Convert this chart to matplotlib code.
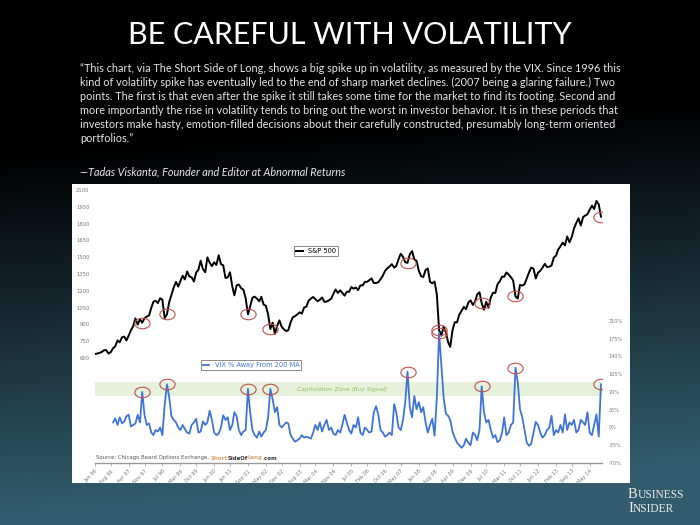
import matplotlib
matplotlib.use('Agg')
import matplotlib.pyplot as plt
from matplotlib import font_manager
from matplotlib.path import Path
from matplotlib.markers import MarkerStyle
from matplotlib.transforms import Affine2D
import numpy as np
import pandas as pd

# S&P 500, monthly, Jan 1996 - Oct 2014
sp500 = [
    636, 640, 646, 654, 669, 671, 640, 652, 687, 705, 757, 741,        # 1996
    786, 791, 757, 801, 848, 885, 954, 899, 947, 915, 955, 970,        # 1997
    980, 1049, 1102, 1112, 1091, 1134, 1121, 957, 990, 1099, 1164, 1229,  # 1998
    1280, 1238, 1286, 1335, 1302, 1373, 1329, 1320, 1283, 1363, 1389, 1469,  # 1999
    1394, 1366, 1499, 1452, 1421, 1455, 1431, 1518, 1437, 1429, 1315, 1320,  # 2000
    1366, 1240, 1160, 1249, 1256, 1224, 1211, 1134, 990, 1060, 1139, 1148,   # 2001
    1130, 1107, 1147, 1077, 1067, 990, 860, 916, 815, 886, 936, 880,         # 2002
    856, 841, 848, 917, 964, 975, 990, 1008, 996, 1051, 1058, 1112,          # 2003
    1131, 1145, 1126, 1107, 1121, 1141, 1102, 1104, 1115, 1130, 1174, 1212,  # 2004
    1181, 1204, 1181, 1157, 1192, 1191, 1234, 1220, 1229, 1207, 1249, 1248,  # 2005
    1280, 1281, 1295, 1311, 1270, 1270, 1277, 1304, 1336, 1378, 1401, 1418,  # 2006
    1438, 1407, 1421, 1482, 1531, 1503, 1455, 1450, 1527, 1555, 1481, 1468,  # 2007
    1379, 1331, 1323, 1386, 1400, 1280, 1267, 1283, 1166, 850, 800, 880,     # 2008
    830, 740, 700, 850, 919, 919, 987, 1021, 1057, 1036, 1096, 1115,         # 2009
    1074, 1104, 1169, 1187, 1089, 1031, 1102, 1049, 1141, 1183, 1181, 1258,  # 2010
    1286, 1327, 1326, 1364, 1345, 1321, 1292, 1150, 1131, 1253, 1247, 1258,  # 2011
    1312, 1366, 1408, 1398, 1310, 1362, 1379, 1407, 1441, 1412, 1416, 1426,  # 2012
    1498, 1515, 1569, 1598, 1631, 1606, 1686, 1633, 1682, 1757, 1806, 1848,  # 2013
    1783, 1859, 1872, 1884, 1924, 1960, 1931, 2003, 1972, 1862,              # 2014
]

# VIX % away from its 200-day MA, monthly, Sep 1996 - Oct 2014
vix_pct = [
    10, 18, 5, 20,                                            # 1996
    8, 12, 22, 25, 2, 5, 8, 25, 10, 70, 25, 5,                # 1997
    8, -10, -15, -5, -8, 0, -15, 45, 85, 60, 22, 15,          # 1998
    10, 0, -5, 5, -3, -10, -12, 5, 10, 17, -10, -8,           # 1999
    12, 5, 10, 33, 15, -10, -15, -12, 0, 24, 15, 20,          # 2000
    -5, 5, 30, 22, -5, -15, -8, -5, 76, 30, -5, -15,          # 2001
    -20, -8, -18, -10, -5, 20, 76, 56, 30, 40, 5, 0,          # 2002
    5, 10, 8, -15, -22, -28, -25, -22, -15, -20, -18, -20,    # 2003
    -22, -10, 5, -5, 10, -8, 5, 15, -5, 0, -12, -15,          # 2004
    -5, -10, 5, 25, 10, -5, -12, 5, 0, 20, -10, -15,          # 2005
    0, -5, -10, -8, 30, 42, 25, -5, -10, -18, -15, -10,       # 2006
    -15, 46, 30, 0, -5, 15, 50, 110, 40, 20, 62, 36,          # 2007
    50, 30, 40, 10, -10, 5, 17, -16, 60, 187, 121, 60,        # 2008
    27, 23, 15, -8, -20, -30, -35, -40, -35, -22, -30, -35,   # 2009
    -10, -15, -25, -5, 81, 30, 10, 15, -5, -20, -15, -29,     # 2010
    -25, -10, 20, -15, -10, 5, 10, 118, 89, 36, 20, -5,       # 2011
    -30, -36, -32, -10, 11, 5, -10, -20, -15, -5, 0, 23,      # 2012
    -15, -5, -10, 5, -10, 26, -5, 10, 5, 15, -10, -5,         # 2013
    15, 10, 5, 30, -10, -15, 5, 26, -18, 85,                  # 2014
]

spike_months = ['1997-10', '1998-09', '2001-09', '2002-07', '2007-08',
                '2008-10', '2010-05', '2011-08', '2014-10']

tick_labels = ['Jan 96', 'Aug 96', 'Apr 97', 'Nov 97', 'Jul 98', 'Mar 99', 'Oct 99',
               'Jun 00', 'Jan 01', 'Sep 01', 'May 02', 'Dec 02', 'Aug 03', 'Mar 04',
               'Nov 04', 'Jul 05', 'Feb 06', 'Oct 06', 'May 07', 'Jan 08', 'Aug 08',
               'Apr 09', 'Dec 09', 'Jul 10', 'Mar 11', 'Oct 11', 'Jun 12', 'Feb 13',
               'Sep 13', 'May 14']

sp_ticks = [600, 750, 900, 1050, 1200, 1350, 1500, 1650, 1800, 1950, 2100]
vix_ticks = [-70, -35, 0, 35, 70, 105, 140, 175, 210]

quote_lines = [
    '\u201cThis chart, via The Short Side of Long, shows a big spike up in volatility, as measured by the VIX. Since 1996 this',
    'kind of volatility spike has eventually led to the end of sharp market declines. (2007 being a glaring failure.) Two',
    'points. The first is that even after the spike it still takes some time for the market to find its footing. Second and',
    'more importantly the rise in volatility tends to bring out the worst in investor behavior. It is in these periods that',
    'investors make hasty, emotion-filled decisions about their carefully constructed, presumably long-term oriented',
    'portfolios.\u201d',
]
attribution = '\u2014Tadas Viskanta, Founder and Editor at Abnormal Returns'

sp_dates = pd.date_range('1996-01-01', periods=len(sp500), freq='MS')
vix_dates = pd.date_range('1996-09-01', periods=len(vix_pct), freq='MS')
sp_s = pd.Series(sp500, index=sp_dates)
vix_s = pd.Series(vix_pct, index=vix_dates)
spike_dates = pd.to_datetime(spike_months)
tick_dates = [pd.to_datetime(t, format='%b %y') for t in tick_labels]

# pick fonts that exist
names = {f.name for f in font_manager.fontManager.ttflist}
def pick(*cands):
    for c in cands:
        if c in names:
            return c
    return 'DejaVu Sans'
narrow = pick('Liberation Sans Narrow', 'Lato', 'Open Sans')
title_font = pick('Lato', 'Open Sans', 'Noto Sans')
serif = pick('Liberation Serif', 'DejaVu Serif')

W, H = 700, 525
fig = plt.figure(figsize=(7, 5.25), dpi=100)

def fx(px):
    return px / W
def fy(py):
    return 1 - py / H

# slide background: black fading to dark teal
bg = fig.add_axes([0, 0, 1, 1], zorder=-10)
yy = np.arange(H)[:, None]
xx = np.arange(W)[None, :]
t = np.clip((yy - 140) / 360.0 + 0.15 * (xx / W - 0.3), 0, 1)
teal = np.array([0x32, 0x5c, 0x6d]) / 255.0
img = t[..., None] * teal
bg.imshow(img, aspect='auto', extent=[0, 1, 0, 1])
bg.axis('off')

# title and quote
fig.text(0.5, fy(35), 'BE CAREFUL WITH VOLATILITY', ha='center', va='center',
         color='white', fontsize=22, family=title_font, fontweight='normal')
for i, line in enumerate(quote_lines):
    fig.text(fx(80), fy(69 + 13.9 * i), line, ha='left', va='center',
             color='#e6e6e6', fontsize=7.8, family=narrow)
fig.text(fx(80), fy(172), attribution, ha='left', va='center', color='#e6e6e6',
         fontsize=7.8, family=narrow, style='italic')

# white chart panel
panel = fig.add_axes([fx(72), fy(483), fx(630) - fx(72), fy(184) - fy(483)], zorder=-5)
panel.set_facecolor('white')
panel.set_xticks([])
panel.set_yticks([])
for s in panel.spines.values():
    s.set_visible(False)

ax = fig.add_axes([fx(95), fy(463), fx(602) - fx(95), fy(186) - fy(463)])
ax.patch.set_alpha(0)
ax2 = ax.twinx()

ell = MarkerStyle(Path.unit_circle().transformed(Affine2D().scale(1.45, 1.0)))

# S&P 500 on the left axis
sp_line, = ax.plot(sp_s.index, sp_s.values, color='black', lw=1.4, label='S&P 500')
ax.plot(spike_dates, sp_s.reindex(spike_dates).values, ls='none', marker=ell,
        ms=11, mfc='none', mec='#c0504d', mew=0.8)
ax.set_ylim(-337, 2136)
ax.set_yticks(sp_ticks)
ax.tick_params(axis='y', length=0, pad=4, labelsize=3.8, labelcolor='#777777')

# VIX % away from 200 MA on the right axis
ax2.axhspan(62, 89, color='#e5f1da', lw=0)
ax2.text(pd.Timestamp('2003-07-01'), 75, 'Capitulation Zone (Buy Signal)', color='#8cbf5f',
         fontsize=4.2, style='italic', va='center', ha='left')
vix_line, = ax2.plot(vix_s.index, vix_s.values, color='#3f74d6', lw=1.3,
                     label='VIX % Away From 200 MA')
ax2.plot(spike_dates, vix_s.reindex(spike_dates).values, ls='none', marker=ell,
         ms=11, mfc='none', mec='#c0504d', mew=0.8)
ax2.set_ylim(-70, 476)
ax2.set_yticks(vix_ticks)
ax2.set_yticklabels([f'{v}%' for v in vix_ticks])
ax2.tick_params(axis='y', length=0, pad=5, labelsize=3.6, labelcolor='#777777')

ax.set_xlim(sp_dates[0], pd.Timestamp('2014-10-15'))
ax.set_xticks(tick_dates)
ax.set_xticklabels(tick_labels, rotation=45, ha='right', rotation_mode='anchor')
ax.tick_params(axis='x', length=2, width=0.5, color='#999999', pad=2,
               labelsize=3.6, labelcolor='#777777')

for a in (ax, ax2):
    for side in ('top', 'left', 'right'):
        a.spines[side].set_visible(False)
ax.spines['bottom'].set_color('#999999')
ax.spines['bottom'].set_linewidth(1.0)
ax2.spines['bottom'].set_visible(False)

# legends
lg1 = fig.legend(handles=[sp_line], loc='center', bbox_to_anchor=(fx(316), fy(251)),
                 fontsize=4.8, handlelength=1.0, fancybox=False, edgecolor='#777777',
                 borderpad=0.25, framealpha=1)
lg1.get_frame().set_linewidth(0.6)
lg2 = fig.legend(handles=[vix_line], loc='center', bbox_to_anchor=(fx(251), fy(365)),
                 fontsize=4.8, handlelength=1.0, fancybox=False, edgecolor='#777777',
                 borderpad=0.25, framealpha=1, labelcolor='#3f74d6')
lg2.get_frame().set_linewidth(0.6)

# source line
src = ax.annotate('Source: Chicago Board Options Exchange, ', xy=(fx(96), fy(458)),
                  xycoords='figure fraction', fontsize=3.9, color='#555555', va='center')
prev = src
for part, col in [('Short', '#d8a070'), ('SideOf', '#333333'), ('Long', '#d8a070'), ('.com', '#333333')]:
    prev = ax.annotate(part, xy=(1, 0), xycoords=prev, fontsize=3.9, color=col,
                       va='bottom', fontweight='bold')

# Business Insider mark, small-caps look
for word, ypx in [('BUSINESS', 498), ('INSIDER', 512)]:
    first = fig.text(fx(628), fy(ypx), word[0], ha='left', va='baseline', color='#e8e8e8',
                     fontsize=10.5, family=serif)
    ax.annotate(word[1:], xy=(1, 0), xycoords=first, color='#e8e8e8', fontsize=8.3,
                family=serif, va='bottom', annotation_clip=False)

fig.savefig('out.png', dpi=100)
